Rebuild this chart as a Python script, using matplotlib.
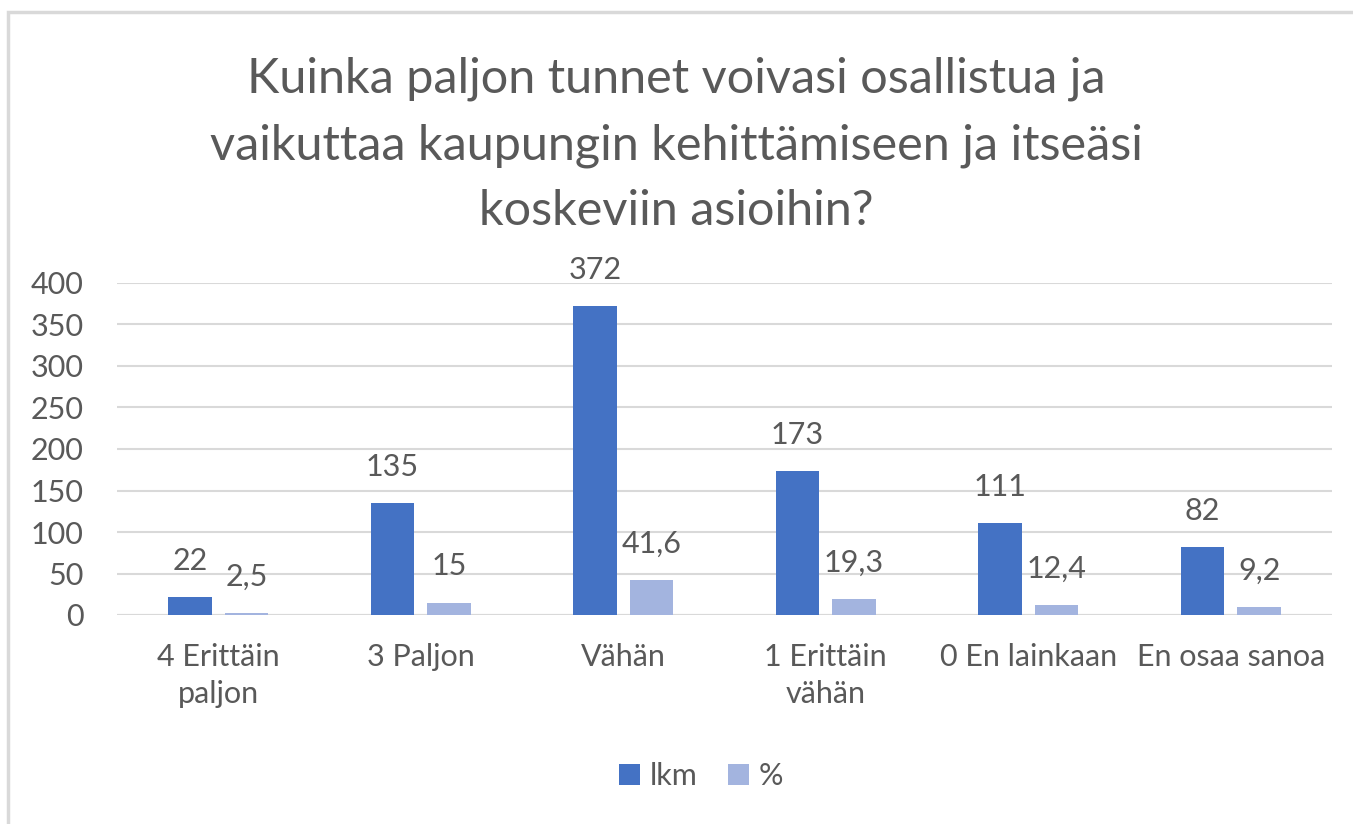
import numpy as np
import matplotlib.pyplot as plt
from matplotlib.patches import Rectangle

plt.rcParams['font.family'] = ['Lato', 'DejaVu Sans']

# data
kategoriat = ["4 Erittäin\npaljon", "3 Paljon", "Vähän", "1 Erittäin\nvähän",
              "0 En lainkaan", "En osaa sanoa"]
lkm = [22, 135, 372, 173, 111, 82]
prosentit = [2.5, 15, 41.6, 19.3, 12.4, 9.2]
otsikko = ("Kuinka paljon tunnet voivasi osallistua ja\n"
           "vaikuttaa kaupungin kehittämiseen ja itseäsi\n"
           "koskeviin asioihin?")

tumma = '#4472C4'
vaalea = '#A3B4DF'
harmaa = '#595959'
fs = 22

fig = plt.figure(figsize=(13.53, 8.24), dpi=100)
ax = fig.add_axes([117 / 1353, 1 - 615 / 824, (1332 - 117) / 1353, (615 - 283) / 824])

# ramka
fig.patches.append(Rectangle((8 / 1353, -0.05), 1.2, 1 - 12 / 824 + 0.05,
                             transform=fig.transFigure, fill=False,
                             edgecolor='#D9D9D9', linewidth=2.5))

x = np.arange(len(kategoriat))
w = 0.215
b1 = ax.bar(x - 0.14, lkm, w, color=tumma, label='lkm', zorder=3)
b2 = ax.bar(x + 0.14, prosentit, w, color=vaalea, label='%', zorder=3)

for rect, v in zip(b1, lkm):
    ax.annotate(str(v), (rect.get_x() + rect.get_width() / 2, v),
                xytext=(0, 16), textcoords='offset points', ha='center', va='bottom',
                fontsize=fs, color=harmaa)
for rect, v in zip(b2, prosentit):
    ax.annotate(str(v).replace('.', ','), (rect.get_x() + rect.get_width() / 2, v),
                xytext=(0, 16), textcoords='offset points', ha='center', va='bottom',
                fontsize=fs, color=harmaa)

ax.set_xlim(-0.5, len(kategoriat) - 0.5)
ax.set_ylim(0, 400)
ax.set_yticks(range(0, 401, 50))
ax.set_xticks(x)
ax.set_xticklabels(kategoriat, fontsize=fs, color=harmaa, linespacing=1.4)
ax.tick_params(axis='y', labelsize=fs, labelcolor=harmaa, length=0, pad=24)
ax.tick_params(axis='x', length=0, pad=20)
ax.yaxis.grid(True, color='#D9D9D9', linewidth=1.5, zorder=0)
for s in ax.spines.values():
    s.set_visible(False)
ax.axhline(0, color='#D9D9D9', linewidth=1.5, zorder=1)

fig.text(0.5, 1 - 145 / 824, otsikko, ha='center', va='center', fontsize=35,
         color=harmaa, linespacing=1.6)

fig.legend(loc='center', bbox_to_anchor=(0.518, 1 - 776 / 824), ncol=2, frameon=False,
           fontsize=fs, labelcolor=harmaa, handlelength=0.7, handleheight=0.7,
           handletextpad=0.3, columnspacing=1.0)

fig.savefig('out.png', dpi=100)
